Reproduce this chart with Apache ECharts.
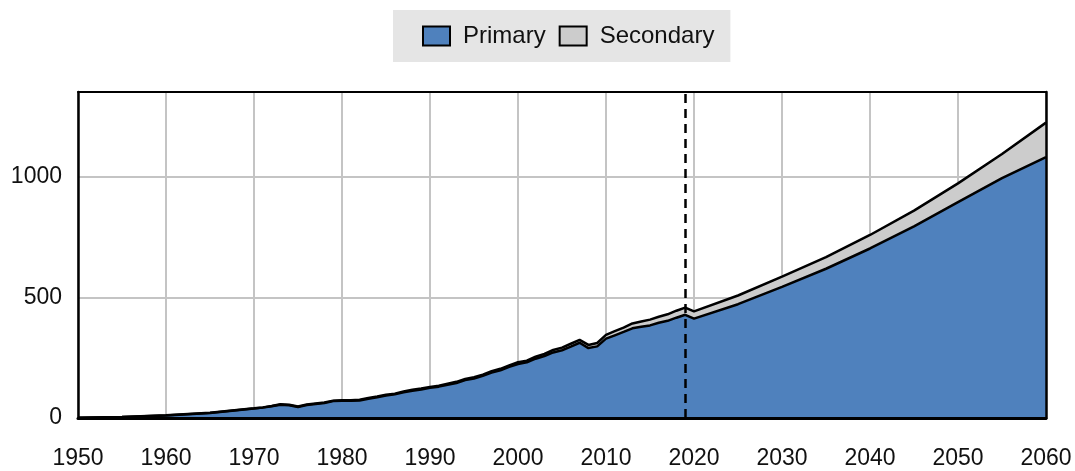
<!DOCTYPE html>
<html>
<head>
<meta charset="utf-8">
<script src="https://cdn.jsdelivr.net/npm/echarts@6/dist/echarts.min.js"></script>
<style>
  html, body { margin: 0; padding: 0; background: #fff; }
  #chart { width: 1075px; height: 471px; }
</style>
</head>
<body>
<div id="chart"></div>
<script>
// years (annual history, 5-yearly outlook)
const years = [1950, 1955, 1960, 1965, 1970, 1971, 1972, 1973, 1974, 1975, 1976, 1977, 1978, 1979,
  1980, 1981, 1982, 1983, 1984, 1985, 1986, 1987, 1988, 1989, 1990, 1991, 1992, 1993, 1994, 1995,
  1996, 1997, 1998, 1999, 2000, 2001, 2002, 2003, 2004, 2005, 2006, 2007, 2008, 2009, 2010, 2011,
  2012, 2013, 2014, 2015, 2016, 2017, 2018, 2019, 2020, 2025, 2030, 2035, 2040, 2045, 2050, 2055, 2060];

const primary = [1, 4, 10, 21, 39, 43, 49, 55, 53, 46, 54, 58, 62, 70,
  72, 72, 73, 80, 86, 93, 98, 107, 113, 118, 125, 130, 138, 145, 157, 164,
  175, 188, 198, 212, 224, 231, 246, 257, 272, 281, 296, 312, 290, 297, 329, 343,
  357, 372, 378, 384, 395, 403, 416, 428, 412, 472, 544, 619, 703, 795, 895, 995, 1082];

const secondary = [0, 0, 1, 1, 1, 1, 1, 2, 2, 2, 2, 2, 2, 2,
  2, 2, 3, 3, 3, 3, 3, 3, 4, 4, 4, 4, 4, 5, 5, 5,
  5, 6, 6, 6, 7, 7, 8, 9, 10, 11, 12, 12, 13, 14, 16, 17,
  18, 20, 22, 24, 25, 27, 29, 30, 30, 36, 42, 48, 56, 65, 78, 100, 143];

const xTicks = { min: 1950, max: 2060, step: 10 };
const yTicks = { min: 0, max: 1352, step: 500 };
const markYear = 2019;

const font = 'Liberation Sans, Arial, sans-serif';

// secondary sits on top of primary (both axes are value axes, so stack by hand)
const total = primary.map((p, i) => p + secondary[i]);

let chart = echarts.init(document.getElementById('chart'));

let plainLabel = function (v) { return String(v); };

// frame axes: only a black line, drawn above the areas
let frameAxis = function (position, width) {
  return {
    type: 'value',
    position: position,
    min: position === 'top' || position === 'bottom' ? xTicks.min : yTicks.min,
    max: position === 'top' || position === 'bottom' ? xTicks.max : yTicks.max,
    axisLine: { show: true, onZero: false, lineStyle: { color: '#000', width: width } },
    axisTick: { show: false },
    axisLabel: { show: false },
    splitLine: { show: false },
    z: 10
  };
};

let option = {
  animation: false,
  textStyle: { fontFamily: font },
  legend: {
    top: 10,
    left: 393,
    icon: 'rect',
    itemWidth: 27,
    itemHeight: 19,
    itemGap: 13,
    padding: [14, 16, 14, 29],
    backgroundColor: '#e5e5e5',
    itemStyle: { borderColor: '#000', borderWidth: 2 },
    textStyle: { fontSize: 24, color: '#111', fontFamily: font, padding: [0, 0, 0, 8] },
    data: ['Primary', 'Secondary']
  },
  grid: {
    left: 78,
    right: 29,
    top: 92,
    bottom: 53
  },
  xAxis: [
    {
      type: 'value',
      min: xTicks.min,
      max: xTicks.max,
      interval: xTicks.step,
      axisLine: { show: false },
      axisTick: { show: false },
      axisLabel: { fontSize: 23, color: '#111', margin: 29, fontFamily: font, formatter: plainLabel },
      splitLine: { show: true, lineStyle: { color: '#c4c4c4', width: 2 } }
    },
    frameAxis('bottom', 3),
    frameAxis('top', 2)
  ],
  yAxis: [
    {
      type: 'value',
      min: yTicks.min,
      max: yTicks.max,
      interval: yTicks.step,
      axisLine: { show: false },
      axisTick: { show: false },
      axisLabel: { fontSize: 23, color: '#111', margin: 16, fontFamily: font, showMaxLabel: false, formatter: plainLabel },
      splitLine: { show: true, lineStyle: { color: '#c4c4c4', width: 2 } }
    },
    frameAxis('left', 2.5),
    frameAxis('right', 2.5)
  ],
  series: [
    {
      name: 'Secondary',
      type: 'line',
      showSymbol: false,
      color: '#cccccc',
      itemStyle: { color: '#cccccc' },
      lineStyle: { color: '#000', width: 2.5 },
      areaStyle: { color: '#cccccc', opacity: 1 },
      data: years.map((y, i) => [y, total[i]])
    },
    {
      name: 'Primary',
      type: 'line',
      showSymbol: false,
      color: '#4f81bd',
      itemStyle: { color: '#4f81bd' },
      lineStyle: { color: '#000', width: 2.5 },
      areaStyle: { color: '#4f81bd', opacity: 1 },
      data: years.map((y, i) => [y, primary[i]]),
      markLine: {
        silent: true,
        symbol: 'none',
        label: { show: false },
        lineStyle: { color: '#000', type: [9, 6], width: 2.5 },
        data: [{ xAxis: markYear }]
      }
    }
  ]
};

chart.setOption(option);
</script>
</body>
</html>
